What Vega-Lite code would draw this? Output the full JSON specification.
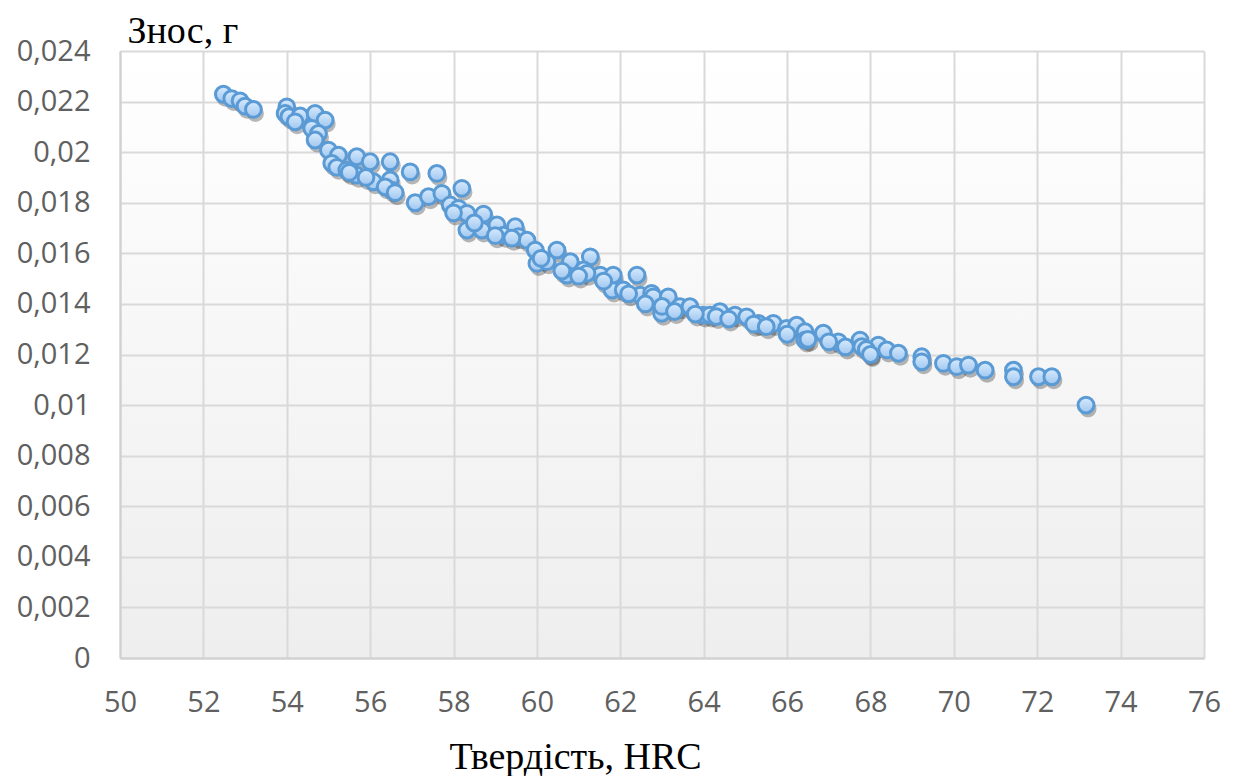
{
  "$schema": "https://vega.github.io/schema/vega-lite/v6.json",
  "width": 1084,
  "height": 607,
  "autosize": "none",
  "padding": {"left": 120, "top": 51, "right": 31, "bottom": 118},
  "background": "#ffffff",
  "config": {
    "view": {
      "stroke": null,
      "fill": {"gradient": "linear", "x1": 0, "y1": 0, "x2": 0, "y2": 1, "stops": [{"offset": 0, "color": "#ffffff"}, {"offset": 1, "color": "#eeeeee"}]}
    }
  },
  "data": {
    "values": [
      {"h": 52.48, "w": 0.02229}, {"h": 52.68, "w": 0.02212}, {"h": 52.88, "w": 0.02203}, {"h": 53.0, "w": 0.02182}, {"h": 53.2, "w": 0.02169},
      {"h": 54.0, "w": 0.02179}, {"h": 53.96, "w": 0.02153}, {"h": 54.05, "w": 0.0214}, {"h": 54.32, "w": 0.02143}, {"h": 54.2, "w": 0.0212},
      {"h": 54.68, "w": 0.02153}, {"h": 54.92, "w": 0.02127}, {"h": 54.6, "w": 0.02094}, {"h": 54.76, "w": 0.02074}, {"h": 54.68, "w": 0.02048},
      {"h": 55.0, "w": 0.02008}, {"h": 55.24, "w": 0.01988}, {"h": 55.08, "w": 0.01956}, {"h": 55.2, "w": 0.0194}, {"h": 55.44, "w": 0.01929},
      {"h": 55.68, "w": 0.01982}, {"h": 56.0, "w": 0.01962}, {"h": 55.68, "w": 0.01909}, {"h": 56.08, "w": 0.01883}, {"h": 56.48, "w": 0.01962},
      {"h": 56.48, "w": 0.0189}, {"h": 56.52, "w": 0.0185}, {"h": 56.36, "w": 0.01863}, {"h": 56.96, "w": 0.01922}, {"h": 57.08, "w": 0.018},
      {"h": 57.6, "w": 0.01916}, {"h": 57.4, "w": 0.01824}, {"h": 57.72, "w": 0.01837}, {"h": 58.2, "w": 0.01857}, {"h": 57.92, "w": 0.01791},
      {"h": 58.12, "w": 0.01778}, {"h": 58.32, "w": 0.01758}, {"h": 58.72, "w": 0.01755}, {"h": 58.32, "w": 0.01692}, {"h": 58.68, "w": 0.01692},
      {"h": 59.04, "w": 0.01712}, {"h": 59.2, "w": 0.01672}, {"h": 59.48, "w": 0.01705}, {"h": 59.56, "w": 0.01666}, {"h": 59.76, "w": 0.01652},
      {"h": 59.96, "w": 0.01613}, {"h": 60.0, "w": 0.0156}, {"h": 60.24, "w": 0.01567}, {"h": 60.48, "w": 0.01613}, {"h": 60.8, "w": 0.01567},
      {"h": 60.72, "w": 0.01514}, {"h": 61.28, "w": 0.01586}, {"h": 61.52, "w": 0.01514}, {"h": 61.12, "w": 0.01534}, {"h": 61.2, "w": 0.01521},
      {"h": 62.4, "w": 0.01514}, {"h": 62.48, "w": 0.01435}, {"h": 61.84, "w": 0.01488}, {"h": 61.8, "w": 0.01455}, {"h": 61.83, "w": 0.01514},
      {"h": 62.07, "w": 0.01455}, {"h": 62.75, "w": 0.01442}, {"h": 62.79, "w": 0.01428}, {"h": 63.15, "w": 0.01428}, {"h": 63.43, "w": 0.01389},
      {"h": 62.99, "w": 0.01363}, {"h": 63.67, "w": 0.01389}, {"h": 63.99, "w": 0.01356}, {"h": 64.15, "w": 0.01356}, {"h": 64.39, "w": 0.01369},
      {"h": 64.75, "w": 0.01356}, {"h": 65.03, "w": 0.01349}, {"h": 65.31, "w": 0.01323}, {"h": 65.67, "w": 0.01323}, {"h": 65.99, "w": 0.01303},
      {"h": 66.23, "w": 0.01316}, {"h": 66.43, "w": 0.0129}, {"h": 66.43, "w": 0.01257}, {"h": 66.87, "w": 0.01284}, {"h": 67.23, "w": 0.0125},
      {"h": 67.75, "w": 0.01257}, {"h": 67.79, "w": 0.01231}, {"h": 67.99, "w": 0.01205}, {"h": 68.19, "w": 0.01237}, {"h": 68.39, "w": 0.01218},
      {"h": 68.67, "w": 0.01205}, {"h": 69.23, "w": 0.01191}, {"h": 69.23, "w": 0.01171}, {"h": 69.75, "w": 0.01165}, {"h": 70.07, "w": 0.01152},
      {"h": 70.35, "w": 0.01158}, {"h": 70.75, "w": 0.01138}, {"h": 71.43, "w": 0.01138}, {"h": 71.43, "w": 0.01112}, {"h": 72.03, "w": 0.01112},
      {"h": 72.35, "w": 0.01112}, {"h": 73.17, "w": 0.01},
      {"h": 55.5, "w": 0.0192}, {"h": 55.9, "w": 0.019}, {"h": 56.6, "w": 0.0184}, {"h": 58.0, "w": 0.0176}, {"h": 58.5, "w": 0.0172},
      {"h": 59.0, "w": 0.0167}, {"h": 59.4, "w": 0.0166}, {"h": 60.1, "w": 0.0158}, {"h": 60.6, "w": 0.0153}, {"h": 61.0, "w": 0.0151},
      {"h": 61.6, "w": 0.0149}, {"h": 62.2, "w": 0.0144}, {"h": 62.6, "w": 0.014}, {"h": 63.0, "w": 0.0139}, {"h": 63.3, "w": 0.0137},
      {"h": 63.8, "w": 0.0136}, {"h": 64.3, "w": 0.0135}, {"h": 64.6, "w": 0.0134}, {"h": 65.2, "w": 0.0132}, {"h": 65.5, "w": 0.0131},
      {"h": 66.0, "w": 0.0128}, {"h": 66.5, "w": 0.0126}, {"h": 67.0, "w": 0.0125}, {"h": 67.4, "w": 0.0123}, {"h": 67.9, "w": 0.0122},
      {"h": 68.0, "w": 0.012}
    ]
  },
  "encoding": {
    "x": {
      "field": "h", "type": "quantitative",
      "scale": {"domain": [50, 76], "nice": false, "zero": false},
      "axis": {
        "values": [50, 52, 54, 56, 58, 60, 62, 64, 66, 68, 70, 72, 74, 76],
        "title": "Твердість, HRC",
        "titleFont": "Liberation Serif", "titleFontSize": 38, "titleFontWeight": "normal", "titleColor": "#000000",
        "titleAnchor": null, "titleAlign": "center", "titleBaseline": "alphabetic", "titleX": 455, "titleY": 110,
        "labelFont": "Open Sans", "labelFontSize": 29, "labelColor": "#606060", "labelPadding": 30, "labelBaseline": "top",
        "labelFlush": false, "labelOverlap": false,
        "ticks": false, "grid": true, "gridColor": "#d9d9d9", "gridWidth": 2,
        "domain": true, "domainColor": "#d0d0d0", "domainWidth": 2
      }
    },
    "y": {
      "field": "w", "type": "quantitative",
      "scale": {"domain": [0, 0.024], "nice": false},
      "axis": {
        "values": [0, 0.002, 0.004, 0.006, 0.008, 0.01, 0.012, 0.014, 0.016, 0.018, 0.02, 0.022, 0.024],
        "labelExpr": "replace(format(datum.value, '.3~f'), '.', ',')",
        "title": "Знос, г",
        "titleFont": "Liberation Serif", "titleFontSize": 38, "titleFontWeight": "normal", "titleColor": "#000000",
        "titleAngle": 0, "titleAnchor": null, "titleAlign": "left", "titleBaseline": "alphabetic", "titleX": 7, "titleY": -9,
        "labelFont": "Open Sans", "labelFontSize": 29, "labelColor": "#606060", "labelPadding": 30,
        "labelFlush": false, "labelOverlap": false,
        "ticks": false, "grid": true, "gridColor": "#d9d9d9", "gridWidth": 2,
        "domain": true, "domainColor": "#d0d0d0", "domainWidth": 2
      }
    }
  },
  "layer": [
    {
      "mark": {"type": "circle", "size": 290, "color": "#000000", "opacity": 0.28, "xOffset": 2, "yOffset": 4, "clip": false}
    },
    {
      "mark": {
        "type": "circle", "size": 250, "opacity": 1, "strokeWidth": 3, "stroke": "#5b9bd5",
        "fill": {"gradient": "linear", "x1": 0, "y1": 0, "x2": 0, "y2": 1, "stops": [{"offset": 0, "color": "#d8ebfd"}, {"offset": 1, "color": "#9fc6f0"}]}
      }
    }
  ]
}
